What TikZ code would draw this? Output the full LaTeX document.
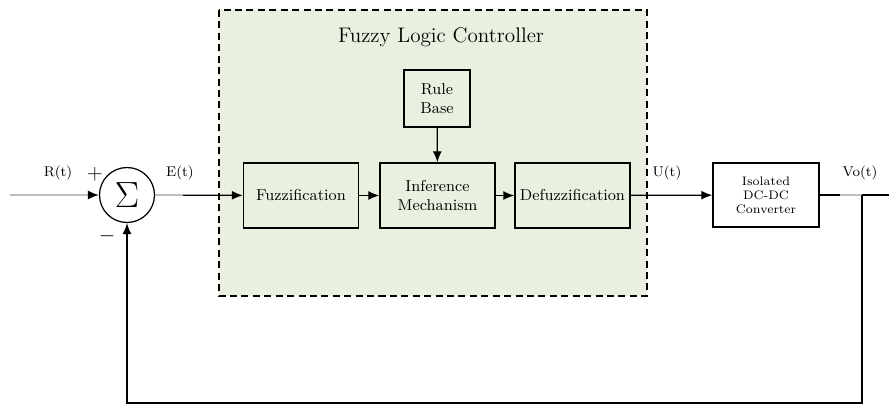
\documentclass[tikz,border=0pt]{standalone}
\usepackage{amsmath}
\usetikzlibrary{arrows.meta,calc}
\definecolor{flcgreen}{HTML}{EAF0E0}

\begin{document}
\begin{tikzpicture}[scale=1.0,
  block/.style={draw,line width=0.8pt,minimum width=2.3cm,minimum height=1.3cm,align=center,font=\small,inner sep=1pt},
  sig/.style={font=\footnotesize},
  conn/.style={-{Latex[length=2.2mm,width=1.8mm]},line width=0.7pt}]
\useasboundingbox (0,0) rectangle (17.78,-8.1);
\draw [dash pattern=on 4pt off 2.5pt,line width=0.8pt,fill=flcgreen] (4.38,-0.2) rectangle (12.94,-5.92);
\node[font=\large] (title) at (8.82,-0.74) {Fuzzy Logic Controller};
\node[draw,circle,line width=0.7pt,minimum size=1.1cm,inner sep=0pt] (sum) at (2.54,-3.9) {\huge$\Sigma$};
\node[block,minimum width=1.32cm,minimum height=1.14cm] (rule) at (8.74,-1.97) {Rule\\Base};
\node[block] (fuzz) at (6.02,-3.91) {Fuzzification};
\node[block] (infer) at (8.75,-3.91) {Inference\\Mechanism};
\node[block] (defuzz) at (11.45,-3.91) {Defuzzification};
\node[block,minimum width=2.12cm,minimum height=1.28cm,font=\scriptsize] (conv) at (15.32,-3.9) {Isolated\\DC-DC\\Converter};
\node[sig] (r) at (1.16,-3.46) {R(t)};
\node[sig] (e) at (3.6,-3.46) {E(t)};
\node[sig] (u) at (13.34,-3.46) {U(t)};
\node[sig] (vo) at (17.2,-3.46) {Vo(t)};
\node[font=\large] (plus) at (1.9,-3.48) {$+$};
\node[font=\large] (minus) at (2.14,-4.72) {$-$};
\coordinate (in) at (0.2,-3.9);
\coordinate (br) at (17.24,-3.9);
\coordinate (out) at (17.78,-3.9);
\coordinate (bot) at (17.24,-8.06);
% forward path
\draw [line width=0.8pt,gray!50,-{Latex[black,length=2.2mm,width=1.8mm]}] (in) -- (sum);
\draw [conn] (sum) -- (fuzz);
\draw [line width=0.8pt,gray!50] (sum.east) -- ++(0.56,0);
\draw [conn] (fuzz) -- (infer);
\draw [conn] (rule) -- (infer);
\draw [conn] (infer) -- (defuzz);
\draw [conn] (defuzz) -- (conv);
\draw [line width=0.7pt] (conv) -- (out);
\draw [line width=0.8pt,gray!50] (16.8,-3.9) -- (br);
% feedback
\draw [conn] (br) -- (bot) -| (sum);
\end{tikzpicture}
\end{document}
